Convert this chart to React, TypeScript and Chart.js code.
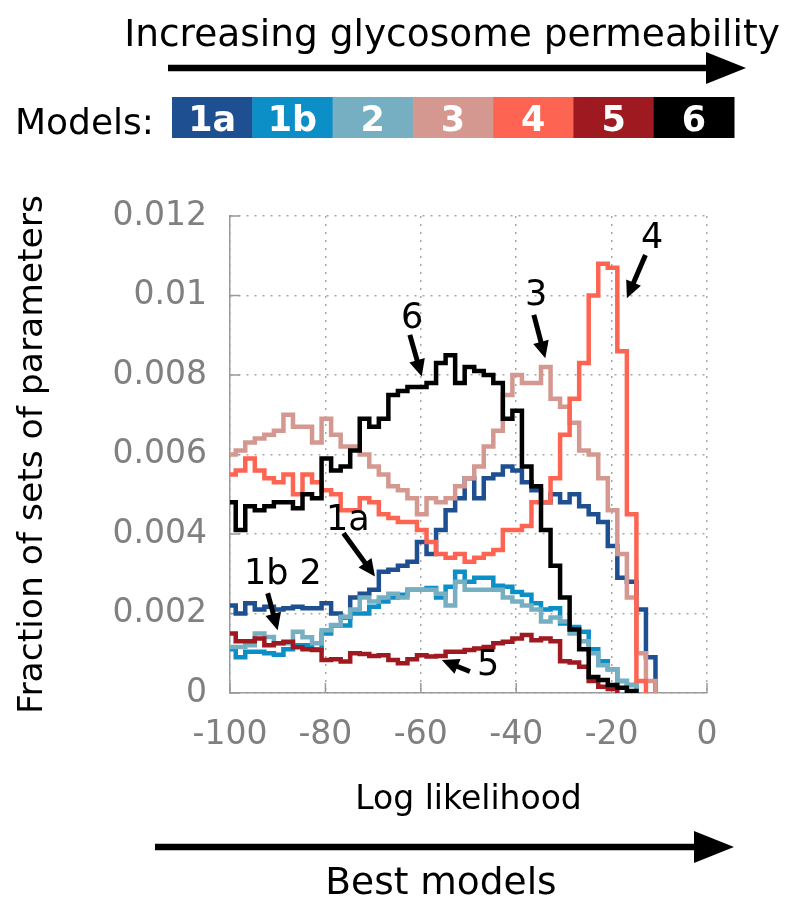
import { useEffect, useRef } from 'react';
import { Chart, registerables } from 'chart.js';

Chart.register(...registerables);

// ---------- data ----------
const MODEL_NAMES = ['1a', '1b', '2', '3', '4', '5', '6'];
const MODEL_COLORS = ['#1d4f91', '#0c8ec6', '#76afc1', '#d49890', '#fd6452', '#9e1a20', '#000000'];

// left edges of the 2-unit log-likelihood bins
const BIN_LEFT_EDGES = [
  -100.8, -98.8, -96.8, -94.8, -92.8, -90.8, -88.8, -86.8, -84.8, -82.8,
  -80.8, -78.8, -76.8, -74.8, -72.8, -70.8, -68.8, -66.8, -64.8, -62.8,
  -60.8, -58.8, -56.8, -54.8, -52.8, -50.8, -48.8, -46.8, -44.8, -42.8,
  -40.8, -38.8, -36.8, -34.8, -32.8, -30.8, -28.8, -26.8, -24.8, -22.8,
  -20.8, -18.8, -16.8, -14.8, -12.8,
];
const BIN_WIDTH = 2;

const MODEL_1A = [
  0.0022, 0.002, 0.00226, 0.0021, 0.00217, 0.0021, 0.00213, 0.00217, 0.00213, 0.00213,
  0.00226, 0.002, 0.0019, 0.0024, 0.0025, 0.0026, 0.00305, 0.0031, 0.0032, 0.0033,
  0.0038, 0.0035, 0.0041, 0.0046, 0.0049, 0.0054, 0.0049, 0.0054, 0.0055, 0.0057,
  0.0056, 0.0053, 0.0051, 0.0048, 0.005, 0.0048, 0.005, 0.0047, 0.0045, 0.0043,
  0.0037, 0.0029, 0.0028, 0.0021, 0.0009,
];
const MODEL_1B = [
  0.0011, 0.0009, 0.00104, 0.00104, 0.001, 0.00096, 0.0011, 0.0012, 0.0012, 0.0011,
  0.0015, 0.0017, 0.0017, 0.002, 0.002, 0.00217, 0.0023, 0.0024, 0.00247, 0.0026,
  0.0026, 0.00264, 0.0024, 0.00267, 0.00305, 0.0028, 0.0029, 0.0029, 0.0027, 0.00267,
  0.00254, 0.00247, 0.00226, 0.0021, 0.00213, 0.00175, 0.00166, 0.00154, 0.0011, 0.0008,
  0.0006, 0.0003, 0.0002,
];
const MODEL_2 = [
  0.00116, 0.00116, 0.0012, 0.0015, 0.00141, 0.00125, 0.00125, 0.00154, 0.0014, 0.00125,
  0.00158, 0.00171, 0.00192, 0.0021, 0.0024, 0.0023, 0.0024, 0.0025, 0.0024, 0.0026,
  0.0026, 0.0026, 0.0025, 0.0022, 0.0028, 0.0026, 0.0026, 0.0026, 0.0026, 0.0024,
  0.0023, 0.0022, 0.0021, 0.0018, 0.0019, 0.0018, 0.0015, 0.0013, 0.001, 0.0007,
  0.0006, 0.0003, 0.0002,
];
const MODEL_3 = [
  0.006, 0.0061, 0.0063, 0.0064, 0.0065, 0.0066, 0.007, 0.0067, 0.0067, 0.0063,
  0.0069, 0.0065, 0.0062, 0.0062, 0.006, 0.0057, 0.0055, 0.0052, 0.0051, 0.0049,
  0.0045, 0.0049, 0.0048, 0.0049, 0.0052, 0.0054, 0.0057, 0.0062, 0.0066, 0.0075,
  0.008, 0.0078, 0.0078, 0.0082, 0.0074, 0.0072, 0.0068, 0.0061, 0.006, 0.0054,
  0.0046, 0.0035, 0.0024, 0.001, 0.0003,
];
const MODEL_4 = [
  0.0055, 0.0056, 0.0059, 0.0056, 0.0054, 0.0053, 0.0055, 0.005, 0.0055, 0.0053,
  0.0051, 0.005, 0.0046, 0.0046, 0.0049, 0.0048, 0.0045, 0.0044, 0.0043, 0.0043,
  0.0041, 0.0038, 0.0035, 0.0034, 0.0035, 0.0033, 0.0034, 0.0035, 0.0036, 0.0041,
  0.0041, 0.0042, 0.0048, 0.0048, 0.0054, 0.0065, 0.0074, 0.0083, 0.01, 0.0108,
  0.0107, 0.0086, 0.0045, 0.0003,
];
const MODEL_5 = [
  0.0015, 0.0013, 0.0013, 0.00137, 0.0012, 0.00125, 0.00129, 0.00115, 0.0011, 0.00108,
  0.00083, 0.00085, 0.00079, 0.001, 0.00098, 0.00093, 0.00095, 0.00083, 0.00075, 0.00085,
  0.00095, 0.00092, 0.00093, 0.00104, 0.00104, 0.00108, 0.00112, 0.00116, 0.00125, 0.00129,
  0.00137, 0.00146, 0.00133, 0.00137, 0.0013, 0.0008, 0.00077, 0.00066, 0.0003, 0.00016,
  0.0001,
];
const MODEL_6 = [
  0.0048, 0.0041, 0.0047, 0.0046, 0.0047, 0.0048, 0.0048, 0.00465, 0.005, 0.0049,
  0.0059, 0.0056, 0.0057, 0.0061, 0.0069, 0.0067, 0.0069, 0.0075, 0.0076, 0.0077,
  0.0077, 0.0078, 0.0083, 0.0085, 0.0078, 0.0082, 0.0081, 0.008, 0.0078, 0.0069,
  0.0071, 0.0057, 0.0052, 0.0041, 0.0032, 0.0024, 0.0016, 0.0011, 0.0004, 0.00033,
  0.0002, 0.00013, 0.00005,
];
const MODEL_VALUES = [MODEL_1A, MODEL_1B, MODEL_2, MODEL_3, MODEL_4, MODEL_5, MODEL_6];

const X_MIN = -100;
const X_MAX = 0;
const X_TICK_VALUES = [-100, -80, -60, -40, -20, 0];
const X_TICK_LABELS = ['-100', '-80', '-60', '-40', '-20', '0'];
const Y_MIN = 0;
const Y_MAX = 0.012;
const Y_TICK_VALUES = [0, 0.002, 0.004, 0.006, 0.008, 0.01, 0.012];
const Y_TICK_LABELS = ['0', '0.002', '0.004', '0.006', '0.008', '0.01', '0.012'];

// callouts in data coordinates: label position, arrow start, arrow tip
const CALLOUT_TEXTS = ['6', '3', '4', '1a', '1b 2', '5'];
const CALLOUT_LABEL_X = [-61.8, -35.8, -11.5, -75.3, -88.9, -45.9];
const CALLOUT_LABEL_Y = [0.00942, 0.00999, 0.01142, 0.00432, 0.00297, 0.00068];
const CALLOUT_FROM_X = [-62.3, -36.3, -12.9, -76.2, -92.1, -49.7];
const CALLOUT_FROM_Y = [0.00901, 0.00951, 0.01102, 0.00402, 0.00251, 0.00054];
const CALLOUT_TO_X = [-59.8, -33.9, -16.8, -69.6, -90.0, -55.6];
const CALLOUT_TO_Y = [0.00796, 0.00842, 0.00993, 0.00293, 0.00158, 0.00083];

const TITLE_TOP = 'Increasing glycosome permeability';
const TITLE_BOTTOM = 'Best models';
const LEGEND_LABEL = 'Models:';
const X_AXIS_TITLE = 'Log likelihood';
const Y_AXIS_TITLE = 'Fraction of sets of parameters';

const FONT = '"DejaVu Sans", "Liberation Sans", sans-serif';

function stepPoints(values: number[]) {
  const pts = values.map((v, i) => ({ x: Math.max(BIN_LEFT_EDGES[i], X_MIN), y: v }));
  const end = BIN_LEFT_EDGES[values.length - 1] + BIN_WIDTH;
  pts.push({ x: end, y: values[values.length - 1] });
  pts.push({ x: end, y: 0 });
  return pts;
}

function drawArrow(
  ctx: CanvasRenderingContext2D,
  x1: number, y1: number, x2: number, y2: number,
  lineWidth: number, headLen: number, headHalf: number,
) {
  const ang = Math.atan2(y2 - y1, x2 - x1);
  const bx = x2 - Math.cos(ang) * headLen;
  const by = y2 - Math.sin(ang) * headLen;
  ctx.save();
  ctx.strokeStyle = '#000';
  ctx.fillStyle = '#000';
  ctx.lineWidth = lineWidth;
  ctx.lineCap = 'butt';
  ctx.beginPath();
  ctx.moveTo(x1, y1);
  ctx.lineTo(bx + Math.cos(ang) * 2, by + Math.sin(ang) * 2);
  ctx.stroke();
  ctx.beginPath();
  ctx.moveTo(x2, y2);
  ctx.lineTo(bx + Math.sin(ang) * headHalf, by - Math.cos(ang) * headHalf);
  ctx.lineTo(bx - Math.sin(ang) * headHalf, by + Math.cos(ang) * headHalf);
  ctx.closePath();
  ctx.fill();
  ctx.restore();
}

const decorPlugin = {
  id: 'decor',
  beforeDatasetsDraw(chart: any) {
    const { ctx, chartArea, scales } = chart;
    ctx.save();
    ctx.strokeStyle = '#9a9a9a';
    ctx.lineWidth = 1.5;
    ctx.beginPath();
    Y_TICK_VALUES.forEach((v) => {
      const py = scales.y.getPixelForValue(v);
      ctx.moveTo(chartArea.left, py);
      ctx.lineTo(chartArea.left + 10, py);
    });
    X_TICK_VALUES.forEach((v) => {
      const px = scales.x.getPixelForValue(v);
      ctx.moveTo(px, chartArea.bottom);
      ctx.lineTo(px, chartArea.bottom - 10);
    });
    ctx.stroke();
    ctx.restore();
  },
  afterDatasetsDraw(chart: any) {
    const { ctx, scales } = chart;
    ctx.save();
    // callouts
    ctx.fillStyle = '#000';
    ctx.font = `35px ${FONT}`;
    ctx.textAlign = 'center';
    ctx.textBaseline = 'middle';
    CALLOUT_TEXTS.forEach((t, i) => {
      const lx = scales.x.getPixelForValue(CALLOUT_LABEL_X[i]);
      const ly = scales.y.getPixelForValue(CALLOUT_LABEL_Y[i]);
      ctx.fillText(t, lx, ly);
      drawArrow(
        ctx,
        scales.x.getPixelForValue(CALLOUT_FROM_X[i]),
        scales.y.getPixelForValue(CALLOUT_FROM_Y[i]),
        scales.x.getPixelForValue(CALLOUT_TO_X[i]),
        scales.y.getPixelForValue(CALLOUT_TO_Y[i]),
        5, 17, 8,
      );
    });

    // top title + arrow
    ctx.fillStyle = '#000';
    ctx.font = `37.5px ${FONT}`;
    ctx.textAlign = 'center';
    ctx.textBaseline = 'alphabetic';
    ctx.fillText(TITLE_TOP, 452, 46);
    drawArrow(ctx, 168, 68, 746, 68, 6.5, 40, 16);

    // legend strip
    ctx.font = `36px ${FONT}`;
    ctx.textAlign = 'left';
    ctx.fillText(LEGEND_LABEL, 15, 134);
    const lx0 = 172;
    const lx1 = 734;
    const bw = (lx1 - lx0) / MODEL_NAMES.length;
    MODEL_NAMES.forEach((name, i) => {
      ctx.fillStyle = MODEL_COLORS[i];
      ctx.fillRect(lx0 + i * bw, 97, bw + 0.5, 41);
      ctx.fillStyle = '#fff';
      ctx.font = `bold 35px ${FONT}`;
      ctx.textAlign = 'center';
      ctx.fillText(name, lx0 + (i + 0.5) * bw, 131);
    });

    // bottom arrow + text
    drawArrow(ctx, 155, 847, 734, 847, 6.5, 40, 16);
    ctx.fillStyle = '#000';
    ctx.font = `37.5px ${FONT}`;
    ctx.textAlign = 'center';
    ctx.fillText(TITLE_BOTTOM, 441, 894);
    ctx.restore();
  },
};

export default function App() {
  const canvasRef = useRef<HTMLCanvasElement | null>(null);

  useEffect(() => {
    if (!canvasRef.current) return;
    const datasets = MODEL_VALUES.map((vals, i) => ({
      label: MODEL_NAMES[i],
      data: stepPoints(vals),
      borderColor: MODEL_COLORS[i],
      backgroundColor: MODEL_COLORS[i],
      borderWidth: 4.5,
      stepped: 'before' as const,
      pointRadius: 0,
      pointHoverRadius: 0,
      fill: false,
      borderJoinStyle: 'miter' as const,
      borderCapStyle: 'butt' as const,
      order: MODEL_VALUES.length - 1 - i,
    }));

    const chart = new Chart(canvasRef.current, {
      type: 'line',
      data: { datasets },
      options: {
        animation: false,
        responsive: false,
        devicePixelRatio: 1,
        layout: { padding: { top: 216, right: 93, bottom: 0, left: 0 } },
        plugins: {
          legend: { display: false },
          tooltip: { enabled: false },
          title: { display: false },
        },
        scales: {
          x: {
            type: 'linear',
            min: X_MIN,
            max: X_MAX,
            afterBuildTicks: (scale: any) => {
              scale.ticks = X_TICK_VALUES.map((v) => ({ value: v }));
            },
            afterFit: (scale: any) => {
              scale.height = 221;
            },
            ticks: {
              autoSkip: false,
              maxRotation: 0,
              padding: 23,
              color: '#808080',
              font: { family: FONT, size: 33 },
              callback: (_v: any, idx: number) => X_TICK_LABELS[idx],
            },
            grid: {
              color: '#a8a8a8',
              lineWidth: 1.5,
              drawTicks: false,
            },
            border: { display: true, color: '#9a9a9a', width: 1.5, dash: [2, 6] },
            title: {
              display: true,
              text: X_AXIS_TITLE,
              color: '#000',
              font: { family: FONT, size: 33 },
              padding: { top: 0, bottom: 94 },
            },
          },
          y: {
            type: 'linear',
            min: Y_MIN,
            max: Y_MAX,
            afterBuildTicks: (scale: any) => {
              scale.ticks = Y_TICK_VALUES.map((v) => ({ value: v }));
            },
            afterFit: (scale: any) => {
              scale.width = 230;
            },
            ticks: {
              autoSkip: false,
              padding: 23,
              color: '#808080',
              font: { family: FONT, size: 33 },
              callback: (_v: any, idx: number) => Y_TICK_LABELS[idx],
            },
            grid: {
              color: '#a8a8a8',
              lineWidth: 1.5,
              drawTicks: false,
            },
            border: { display: true, color: '#9a9a9a', width: 1.5, dash: [2, 6] },
            title: {
              display: true,
              text: Y_AXIS_TITLE,
              color: '#000',
              font: { family: FONT, size: 34.5 },
              padding: { top: 12, bottom: 0 },
            },
          },
        },
      },
      plugins: [decorPlugin],
    });
    return () => chart.destroy();
  }, []);

  return (
    <div style={{ position: 'absolute', left: 0, top: 0, width: 800, height: 914, background: '#fff' }}>
      <canvas ref={canvasRef} width={800} height={914} style={{ display: 'block', width: 800, height: 914 }} />
    </div>
  );
}
